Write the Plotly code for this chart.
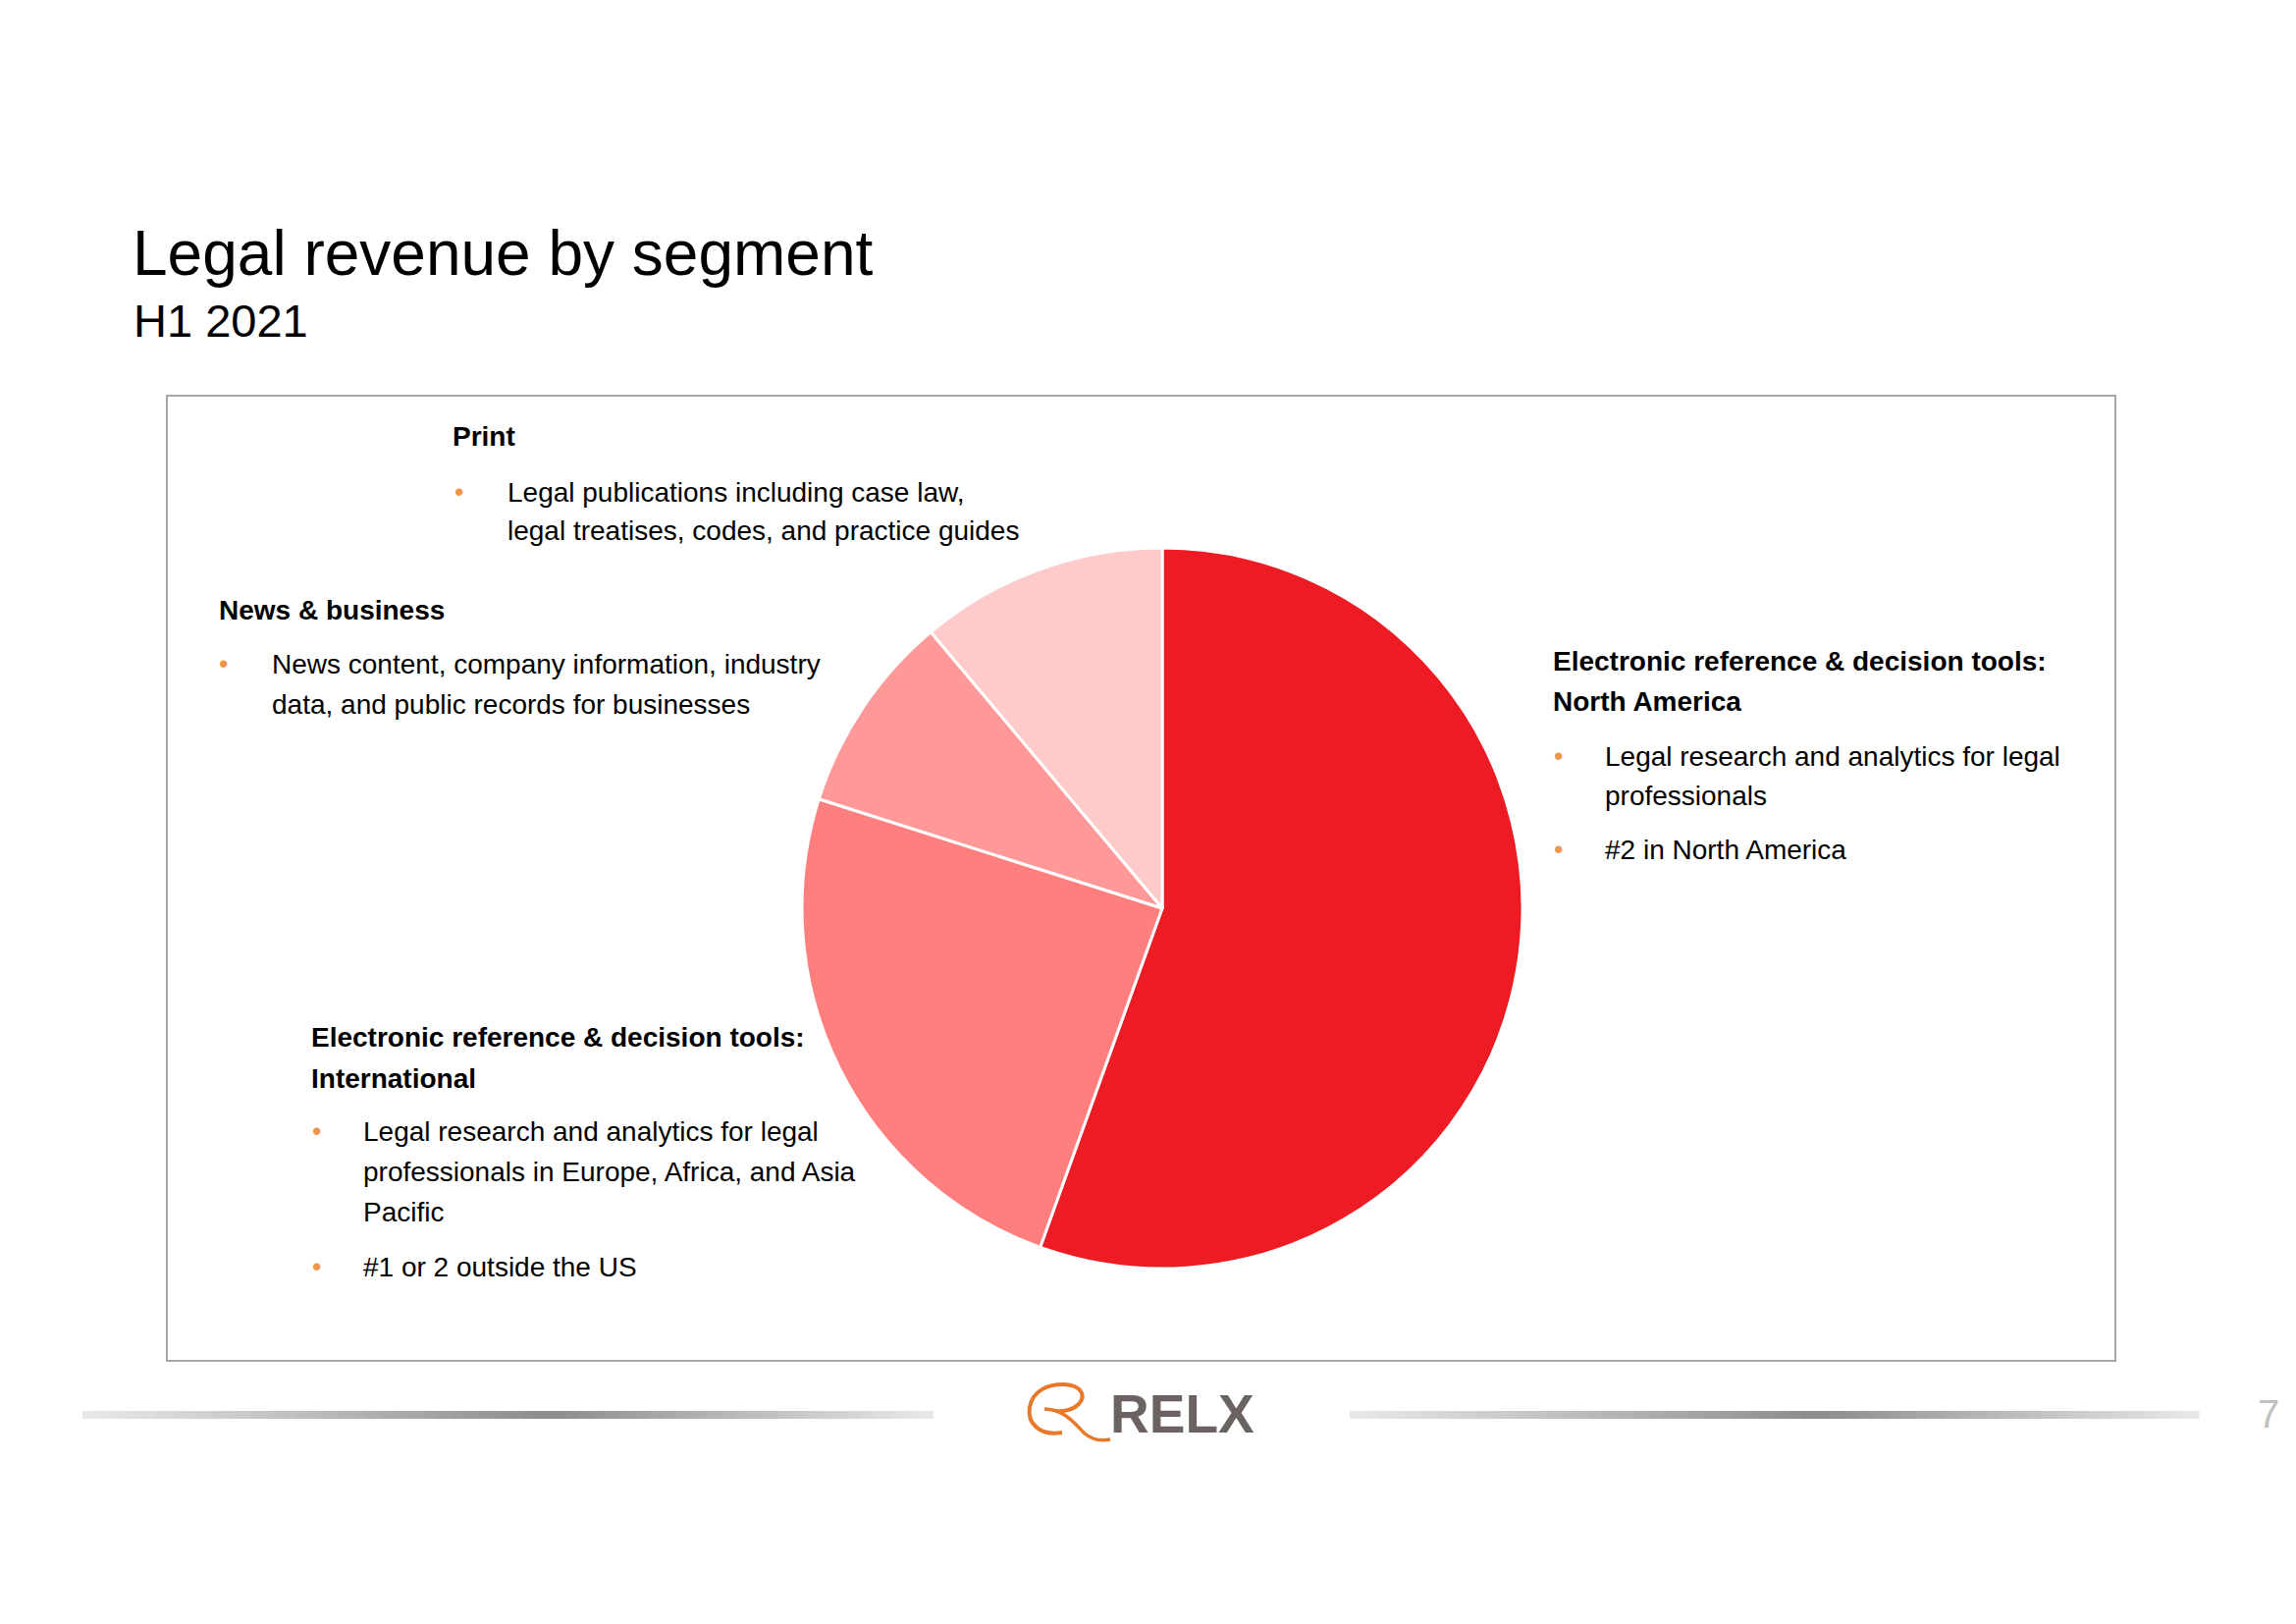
import plotly.graph_objects as go

W, H = 2339, 1654
OFF = 8  # default page body margin

# ---- data ----
segments = ["Electronic reference & decision tools: North America",
            "Electronic reference & decision tools: International",
            "News & business",
            "Print"]
shares = [55.5, 24.4, 9.0, 11.1]
colors = ["#ED1C24", "#FF7F7F", "#FF9999", "#FFCACA"]

title = "Legal revenue by segment"
subtitle = "H1 2021"

FONT = "Liberation Sans Narrow, Arial Narrow, Liberation Sans, Arial, sans-serif"
ORANGE = "#F0964A"
BODY = 28


def px(x):
    return (x - OFF) / W


def py(y):
    return 1 - (y - OFF) / H


fig = go.Figure()

cx, cy, r = 1184, 925, 367
fig.add_trace(go.Pie(
    labels=segments, values=shares, sort=False, direction="clockwise", rotation=0,
    marker=dict(colors=colors, line=dict(color="white", width=3)),
    textinfo="none", hoverinfo="label+percent", showlegend=False,
    domain=dict(x=[px(cx - r), px(cx + r)], y=[py(cy + r), py(cy - r)]),
))

ann = []


def text(x, y, s, size=BODY, color="black", bold=False, anchor="left"):
    if bold:
        s = "<b>" + s + "</b>"
    ann.append(dict(x=px(x), y=py(y), xref="paper", yref="paper", text=s,
                    showarrow=False, xanchor=anchor, yanchor="middle",
                    font=dict(family=FONT, size=size, color=color), align="left"))


def bullet(x, y):
    ann.append(dict(x=px(x), y=py(y), xref="paper", yref="paper", text="•",
                    showarrow=False, xanchor="center", yanchor="middle",
                    font=dict(family="Liberation Sans, sans-serif", size=27, color=ORANGE)))


# title
text(133, 258, title, size=64)
text(134, 326, subtitle, size=47)

# Print
text(459, 445, "Print", bold=True)
bullet(467, 501)
text(515, 501, "Legal publications including case law,")
text(515, 541, "legal treatises, codes, and practice guides")

# News & business
text(221, 621, "News & business", bold=True)
bullet(227, 676)
text(275, 676, "News content, company information, industry")
text(275, 717, "data, and public records for businesses")

# North America
text(1580, 673, "Electronic reference & decision tools:", bold=True)
text(1580, 714, "North America", bold=True)
bullet(1587, 770)
text(1633, 770, "Legal research and analytics for legal")
text(1633, 810, "professionals")
bullet(1587, 865)
text(1633, 865, "#2 in North America")

# International
text(315, 1056, "Electronic reference & decision tools:", bold=True)
text(315, 1098, "International", bold=True)
bullet(322, 1152)
text(368, 1152, "Legal research and analytics for legal")
text(368, 1193, "professionals in Europe, Africa, and Asia")
text(368, 1234, "Pacific")
bullet(322, 1290)
text(368, 1290, "#1 or 2 outside the US")

# footer logo text and page number
text(1129, 1440, "RELX", size=55, color="#6B6361", bold=True)
text(2311, 1440, "7", size=40, color="#C0C0C0", anchor="center")

shapes = [dict(type="rect", xref="paper", yref="paper",
               x0=px(170), x1=px(2155), y0=py(1386), y1=py(403),
               line=dict(color="#A6A6A6", width=2), fillcolor="rgba(0,0,0,0)", layer="below")]


def P(x, y):
    return f"{px(x)},{py(y)}"


# orange script swirl of the logo (decorative)
swirl1 = (f"M {P(1082,1459)} C {P(1060,1463)} {P(1046,1450)} {P(1049,1433)} "
          f"C {P(1052,1417)} {P(1067,1409)} {P(1085,1410)} "
          f"C {P(1101,1411)} {P(1107,1421)} {P(1099,1430)} "
          f"C {P(1093,1436)} {P(1083,1438)} {P(1075,1437)}")
swirl2 = (f"M {P(1064,1435)} C {P(1084,1435)} {P(1095,1450)} {P(1105,1460)} "
          f"C {P(1112,1466)} {P(1120,1468)} {P(1131,1466)}")
for pth, w in [(swirl1, 4), (swirl2, 3.5)]:
    shapes.append(dict(type="path", xref="paper", yref="paper", path=pth,
                       line=dict(color="#E8792B", width=w)))


# gradient footer bars
def grad_bar(x0, x1, yc, n=60):
    w = (x1 - x0) / n
    for i in range(n):
        t = (i + 0.5) / n
        d = abs(t - 0.55) / 0.55 if t < 0.55 else (t - 0.55) / 0.45
        g = int(140 + (234 - 140) * d)
        shapes.append(dict(type="rect", xref="paper", yref="paper",
                           x0=px(x0 + i * w), x1=px(x0 + (i + 1) * w + 0.6),
                           y0=py(yc + 4), y1=py(yc - 4),
                           line=dict(width=0), fillcolor=f"rgb({g},{g},{g})"))


grad_bar(84, 950, 1441)
grad_bar(1375, 2240, 1441)

fig.update_layout(width=W, height=H, margin=dict(l=0, r=0, t=0, b=0),
                  paper_bgcolor="white", plot_bgcolor="white",
                  annotations=ann, shapes=shapes, showlegend=False)

fig.write_html("out.html")
